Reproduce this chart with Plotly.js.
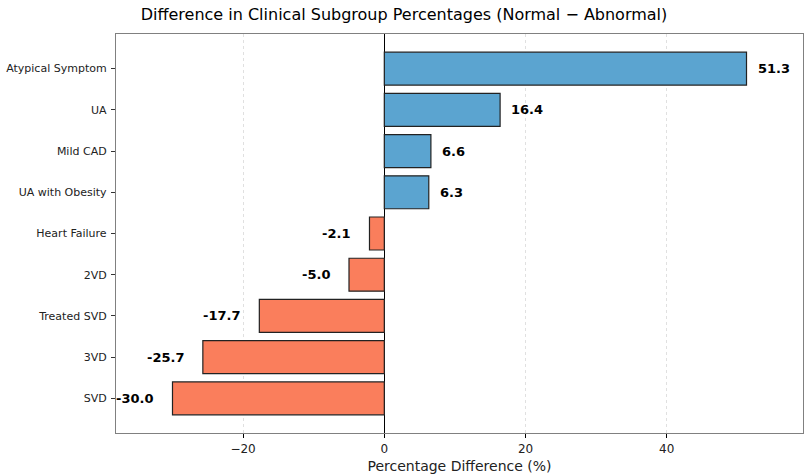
<!DOCTYPE html>
<html>
<head>
<meta charset="utf-8">
<script src="https://cdn.plot.ly/plotly-3.0.1.min.js"></script>
<style>
  body { margin: 0; background: #fff; }
  #chart { width: 808px; height: 476px; }
</style>
</head>
<body>
<div id="chart"></div>
<script>
var groups = ["Atypical Symptom", "UA", "Mild CAD", "UA with Obesity", "Heart Failure",
  "2VD", "Treated SVD", "3VD", "SVD"];
var diffs = [51.3, 16.4, 6.6, 6.3, -2.1, -5.0, -17.7, -25.7, -30.0];

var posColor = "#5BA4D0";
var negColor = "#FA7E5C";

var barColors = diffs.map(function (d) { return d >= 0 ? posColor : negColor; });

var labels = diffs.map(function (d, i) {
  return {
    x: d,
    y: groups[i],
    text: "<b>" + d.toFixed(1) + "</b>",
    showarrow: false,
    xanchor: d >= 0 ? "left" : "right",
    xshift: d >= 0 ? 9 : -17,
    font: { family: "DejaVu Sans", size: 13, color: "#000" },
  };
});

var layout = {
  width: 808,
  height: 476,
  margin: { l: 116, r: 5, t: 34, b: 43 },
  paper_bgcolor: "#fff",
  plot_bgcolor: "#fff",
  font: { family: "DejaVu Sans", size: 12, color: "#222" },
  showlegend: false,
  title: {
    text: "Difference in Clinical Subgroup Percentages (Normal \u2212 Abnormal)",
    font: { family: "DejaVu Sans", size: 16, color: "#000" },
    x: 0.5,
    xanchor: "center",
    y: 0.97,
    yanchor: "middle",
  },
  xaxis: {
    range: [-38, 59.3],
    tickvals: [-20, 0, 20, 40],
    ticktext: ["\u221220", "0", "20", "40"],
    ticks: "outside",
    ticklen: 4,
    tickcolor: "#000",
    showgrid: true,
    gridcolor: "#e0e0e0",
    griddash: "3px,3px",
    zeroline: true,
    zerolinecolor: "#000",
    zerolinewidth: 1.3,
    showline: true,
    linecolor: "#808080",
    linewidth: 1.3,
    mirror: true,
    tickfont: { size: 12, color: "#222" },
    title: {
      text: "Percentage Difference (%)",
      font: { size: 14, color: "#222" },
      standoff: 6,
    },
  },
  yaxis: {
    type: "category",
    categoryorder: "array",
    categoryarray: groups,
    range: [8.84, -0.84],
    ticks: "outside",
    ticklen: 4,
    tickcolor: "#333",
    ticklabelstandoff: 2,
    showgrid: false,
    zeroline: false,
    showline: true,
    linecolor: "#808080",
    linewidth: 1.3,
    mirror: true,
    tickfont: { size: 11, color: "#222" },
  },
  annotations: labels,
};

Plotly.newPlot(
  "chart",
  [
    {
      type: "bar",
      orientation: "h",
      x: diffs,
      y: groups,
      width: 0.8,
      marker: { color: barColors, line: { color: "#222", width: 1.2 } },
      hoverinfo: "x+y",
    },
  ],
  layout,
  { displayModeBar: false }
);
</script>
</body>
</html>
